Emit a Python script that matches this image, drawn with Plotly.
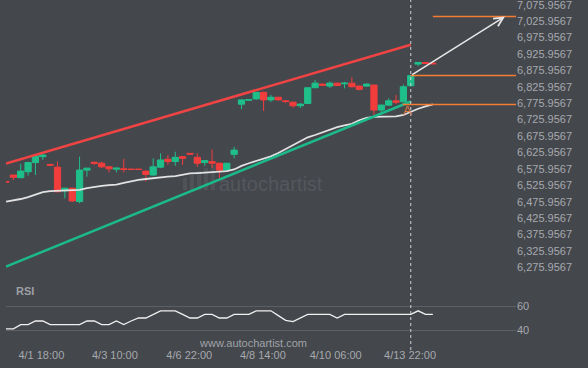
import numpy as np
import plotly.graph_objects as go

BG = "#44474c"
TXT = "#a6a9ae"
GREEN = "#1fbf8a"
RED = "#f23d3d"
ORANGE = "#f47c33"

# ---------------- data ----------------
idx = list(range(59))
opens = [6537, 6557, 6549, 6567, 6595, 6613, 6589, 6581, 6509, 6517,
         6476, 6572, 6596, 6593, 6582, 6575, 6576, 6575, 6575, 6569,
         6557, 6581, 6605, 6598, 6613, 6623, 6611, 6595, 6598, 6593,
         6572, 6620, 6773, 6785, 6789, 6809, 6786, 6794, 6783, 6779,
         6768, 6775, 6823, 6834, 6828, 6837, 6835, 6837, 6828, 6828,
         6831, 6755, 6770, 6783, 6780, 6829, 6895, 6900, 6898]
highs = [6538, 6558, 6591, 6596, 6617, 6623, 6591, 6598, 6518, 6518,
         6613, 6579, 6597, 6598, 6584, 6578, 6606, 6576, 6576, 6570,
         6608, 6623, 6618, 6628, 6615, 6624, 6623, 6602, 6635, 6594,
         6594, 6643, 6788, 6788, 6810, 6811, 6801, 6795, 6784, 6780,
         6776, 6824, 6847, 6836, 6842, 6838, 6841, 6855, 6830, 6836,
         6833, 6772, 6791, 6801, 6833, 6861, 6900, 6901, 6899]
lows = [6535, 6542, 6547, 6555, 6557, 6603, 6585, 6505, 6486, 6475,
        6471, 6552, 6588, 6578, 6565, 6565, 6565, 6573, 6573, 6537,
        6555, 6578, 6588, 6585, 6588, 6619, 6582, 6585, 6578, 6547,
        6570, 6608, 6758, 6784, 6787, 6752, 6780, 6784, 6776, 6762,
        6761, 6773, 6822, 6828, 6822, 6828, 6821, 6824, 6815, 6826,
        6740, 6745, 6768, 6773, 6778, 6827, 6889, 6896, 6895]
closes = [6536, 6550, 6569, 6595, 6615, 6618, 6587, 6506, 6517, 6478,
          6572, 6578, 6593, 6582, 6576, 6578, 6574, 6574, 6574, 6559,
          6582, 6603, 6598, 6611, 6608, 6621, 6593, 6601, 6593, 6572,
          6593, 6633, 6786, 6787, 6809, 6786, 6794, 6786, 6781, 6768,
          6773, 6823, 6837, 6831, 6837, 6830, 6837, 6826, 6818, 6834,
          6755, 6770, 6783, 6779, 6826, 6860, 6900, 6897, 6896]
ma = [6476, 6479, 6484, 6490, 6498, 6505, 6508, 6509, 6509, 6509,
      6512, 6517, 6521, 6524, 6526, 6528, 6533, 6538, 6542, 6545,
      6548, 6550, 6552, 6554, 6558, 6562, 6563, 6564, 6566, 6568,
      6569, 6574, 6585, 6593, 6600, 6606, 6614, 6624, 6636, 6650,
      6662, 6672, 6679, 6687, 6696, 6703, 6708, 6713, 6724, 6731,
      6734, 6734, 6734, 6736, 6740, 6750, 6759, 6766, 6772]
rsi = [41, 41, 44.5, 44.5, 47.5, 47.5, 44.5, 44.5, 44.5, 44.5,
       44.5, 47.5, 47.5, 44.5, 44.5, 47.5, 44.5, 47.5, 50, 50,
       53, 56, 56, 56, 53, 50, 50, 53, 53, 50,
       50, 53, 53, 53, 56, 56, 56, 52, 48, 47,
       50, 53, 53, 53, 53, 50, 53, 53, 53, 53,
       53, 53, 53, 53, 53, 53, 56, 53, 53]

resist_x = [0, 55]
resist_y = [6592, 6954]
support_x = [0, 55]
support_y = [6278, 6781]

levels = [7040, 6860, 6772]
level_start = [58.0, 55.0, 53.9]
level_end = 69.3

forecast_from = (55, 6860)
forecast_to = (67.8, 7040)
pattern_end = 55

tick_pos = [4.8, 14.8, 24.9, 34.9, 44.8, 54.9]
tick_text = ["4/1 18:00", "4/3 10:00", "4/6 22:00", "4/8 14:00", "4/10 06:00", "4/13 22:00"]

W, H = 588, 368
X_RANGE = [0, 69.3]

fig = go.Figure()

# MA line
fig.add_trace(go.Scatter(x=idx, y=ma, mode="lines", line=dict(color="#e2e2e2", width=1.8),
                         hoverinfo="skip", showlegend=False))
# channel lines
fig.add_trace(go.Scatter(x=resist_x, y=resist_y, mode="lines", line=dict(color="#f04444", width=2.5),
                         hoverinfo="skip", showlegend=False))
fig.add_trace(go.Scatter(x=support_x, y=support_y, mode="lines", line=dict(color="#1cb98a", width=2.5),
                         hoverinfo="skip", showlegend=False))
# orange levels
for lv, st in zip(levels, level_start):
    fig.add_trace(go.Scatter(x=[st, level_end], y=[lv, lv], mode="lines",
                             line=dict(color=ORANGE, width=1.5), hoverinfo="skip", showlegend=False))

# candles
fig.add_trace(go.Candlestick(x=idx, open=opens, high=highs, low=lows, close=closes,
                             increasing=dict(line=dict(color=GREEN, width=1), fillcolor=GREEN),
                             decreasing=dict(line=dict(color=RED, width=1), fillcolor=RED),
                             whiskerwidth=0, hoverinfo="skip", showlegend=False))

# RSI
fig.add_trace(go.Scatter(x=idx, y=rsi, mode="lines", line=dict(color="#f0f0f0", width=1.3),
                         xaxis="x2", yaxis="y2", hoverinfo="skip", showlegend=False))

y_bot_px = 282
p_per_px = 800 / 262.6
y_hi = 7075.9567 + 4.7 * p_per_px
y_lo = 6275.9567 - (y_bot_px - 267.3) * p_per_px

# faint logo bars of the watermark (paper coords)
logo_shapes = []
for bx, btop in zip([183, 190, 197, 204, 211], [178, 175, 171, 168, 165]):
    logo_shapes.append(dict(type="rect", xref="paper", yref="paper",
                            x0=bx / W, x1=(bx + 4) / W, y0=(H - 190) / H, y1=(H - btop) / H,
                            fillcolor="#4f5257", line=dict(width=0), layer="below"))

fig.update_layout(
    width=W, height=H,
    margin=dict(l=0, r=0, t=0, b=0, autoexpand=False),
    paper_bgcolor=BG, plot_bgcolor=BG,
    boxgap=0.15, boxgroupgap=0,
    font=dict(family="Liberation Sans, Arial, sans-serif", size=11, color=TXT),
    xaxis=dict(domain=[6 / W, 516 / W], range=X_RANGE, showgrid=False, zeroline=False,
               showticklabels=False, rangeslider=dict(visible=False), fixedrange=True,
               automargin=False),
    yaxis=dict(domain=[(H - y_bot_px) / H, 1], range=[y_lo, y_hi], side="right",
               tick0=6275.9567, dtick=50, tickformat=",.4f", showgrid=False, zeroline=False,
               ticks="", tickfont=dict(size=11, color=TXT), automargin=False,
               ticklabeloverflow="allow"),
    xaxis2=dict(domain=[6 / W, 516 / W], range=X_RANGE, anchor="y2", showgrid=False, zeroline=False,
                tickvals=tick_pos, ticktext=tick_text, ticks="", tickfont=dict(size=11, color=TXT),
                ticklabelstandoff=2, automargin=False),
    yaxis2=dict(domain=[(H - 345) / H, (H - 300) / H], range=[27.5, 65], side="right", anchor="x2",
                tickvals=[40, 60], showgrid=True, gridcolor="#5c5f64", gridwidth=1, zeroline=False,
                ticks="", tickfont=dict(size=11, color=TXT), automargin=False),
    shapes=logo_shapes + [dict(type="line", xref="x", yref="paper", x0=pattern_end, x1=pattern_end,
                               y0=18 / H, y1=1, line=dict(color="#cfd0d2", width=1, dash="3px,3px"))],
    annotations=[
        dict(x=forecast_to[0], y=forecast_to[1], ax=forecast_from[0], ay=forecast_from[1],
             xref="x", yref="y", axref="x", ayref="y", showarrow=True, arrowhead=5,
             arrowsize=1.2, arrowwidth=1.5, arrowcolor="#e8e8e8", text=""),
        dict(x=54.5, y=6755, xref="x", yref="y", text="A", showarrow=False,
             font=dict(color="#e07a3c", size=13)),
        dict(x=14 / W, y=(H - 291) / H, xref="paper", yref="paper", text="<b>RSI</b>",
             showarrow=False, xanchor="left", yanchor="middle", font=dict(color="#9c9fa4", size=11)),
        dict(x=253 / W, y=(H - 343) / H, xref="paper", yref="paper", text="www.autochartist.com",
             showarrow=False, yanchor="middle", font=dict(color="#a0a3a8", size=11)),
        dict(x=217 / W, y=(H - 184) / H, xref="paper", yref="paper", text="autochartist",
             showarrow=False, xanchor="left", yanchor="middle", font=dict(color="#54575c", size=20)),
    ],
)

fig.write_html("out.html",
               config={"displayModeBar": False},
               post_script="document.body.style.margin='0';document.body.style.padding='0';"
                           "document.body.style.background='" + BG + "';")
